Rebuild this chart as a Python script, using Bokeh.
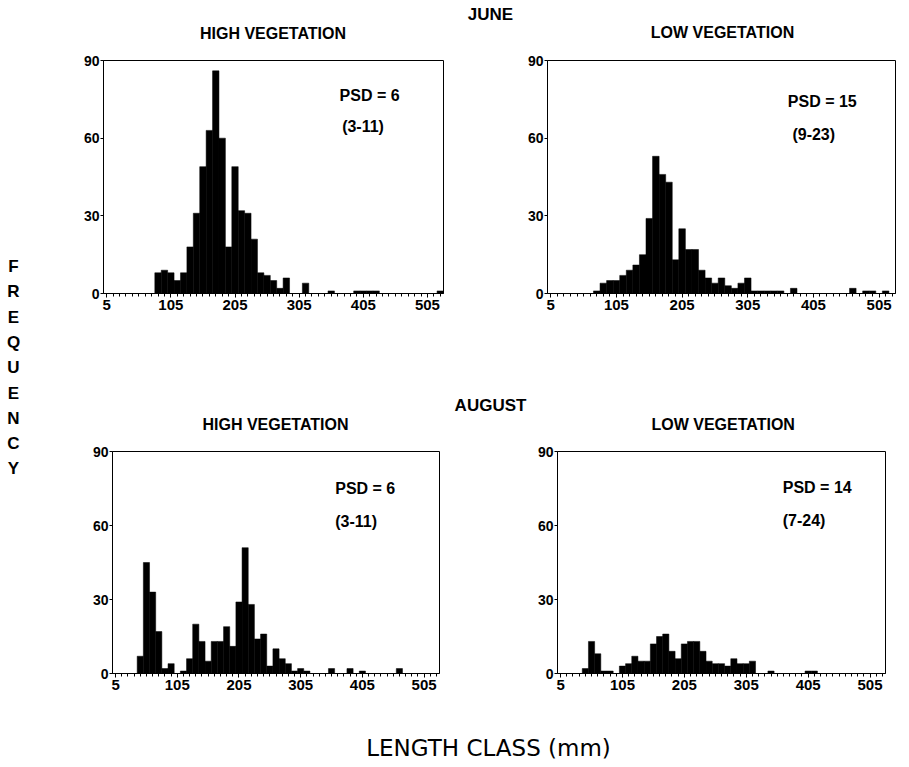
from bokeh.plotting import figure
from bokeh.layouts import row, column
from bokeh.models import Range1d, FixedTicker, Label
from bokeh.embed import file_html
from bokeh.resources import INLINE

# ---------------- data ----------------
BIN_WIDTH = 10
x_ticks = [5, 105, 205, 305, 405, 505]
x_minor = list(range(5, 530, 10))
y_ticks = [0, 30, 60, 90]

# June, high vegetation (bin left edge, mm ; frequency)
june_high_bins = [80, 90, 100, 110, 120, 130, 140, 150, 160, 170, 180, 190, 200, 210,
                  220, 230, 240, 250, 260, 270, 280, 310, 350, 390, 400, 410, 420, 520]
june_high_counts = [8, 9, 8, 5, 8, 18, 31, 49, 63, 86, 60, 18, 49, 32,
                    31, 21, 8, 7, 5, 2, 6, 4, 1, 1, 1, 1, 1, 1]

# June, low vegetation
june_low_bins = [70, 80, 90, 100, 110, 120, 130, 140, 150, 160, 170, 180, 190, 200, 210,
                 220, 230, 240, 250, 260, 270, 280, 290, 300, 310, 320, 330, 340, 350,
                 370, 460, 480, 490, 510]
june_low_counts = [1, 4, 5, 5, 7, 9, 11, 15, 29, 53, 46, 43, 13, 25, 17,
                   17, 9, 6, 4, 6, 3, 2, 4, 6, 1, 1, 1, 1, 1,
                   2, 2, 1, 1, 1]

# August, high vegetation
aug_high_bins = [40, 50, 60, 70, 80, 90, 110, 120, 130, 140, 150, 160, 170, 180, 190,
                 200, 210, 220, 230, 240, 250, 260, 270, 280, 290, 300, 310, 350, 380,
                 400, 460]
aug_high_counts = [7, 45, 33, 17, 2, 4, 1, 6, 20, 13, 5, 13, 13, 19, 11,
                   29, 51, 28, 14, 16, 3, 10, 6, 4, 1, 2, 1, 2, 2,
                   1, 2]

# August, low vegetation
aug_low_bins = [40, 50, 60, 70, 80, 100, 110, 120, 130, 140, 150, 160, 170, 180, 190,
                200, 210, 220, 230, 240, 250, 260, 270, 280, 290, 300, 310, 340, 400, 410]
aug_low_counts = [2, 13, 8, 1, 1, 3, 4, 7, 5, 5, 12, 15, 16, 9, 6,
                  12, 13, 13, 9, 5, 4, 4, 3, 6, 4, 4, 5, 1, 1, 1]

FONT = "Liberation Sans"


def strip(width, height):
    p = figure(width=width, height=height, x_range=Range1d(0, width), y_range=Range1d(0, height),
               output_backend="svg", toolbar_location=None, x_axis_type=None, y_axis_type=None,
               min_border=0, min_border_left=0, min_border_right=0, min_border_top=0,
               min_border_bottom=0)
    p.outline_line_color = None
    p.xgrid.visible = False
    p.ygrid.visible = False
    p.background_fill_color = "white"
    p.border_fill_color = "white"
    return p


def add_text(p, x, y, text, size, bold=True, font=FONT):
    p.add_layout(Label(x=x, y=y, text=text, text_align="center", text_baseline="middle",
                       text_font=font, text_font_style="bold" if bold else "normal",
                       text_font_size=size, text_color="black"))


def panel(bins, counts, width, height, bl, br, bt, bb, psd, psd_pos, ci, ci_pos):
    p = figure(width=width, height=height, x_range=Range1d(0, 530), y_range=Range1d(0, 90),
               output_backend="svg", toolbar_location=None,
               min_border_left=bl, min_border_right=br, min_border_top=bt, min_border_bottom=bb)
    p.quad(left=bins, right=[b + BIN_WIDTH for b in bins], bottom=0, top=counts,
           fill_color="black", line_color="black", line_width=0.5)
    p.xgrid.visible = False
    p.ygrid.visible = False
    p.outline_line_color = "black"
    p.outline_line_width = 1
    p.background_fill_color = "white"
    p.border_fill_color = "white"

    xa = p.xaxis[0]
    xa.ticker = FixedTicker(ticks=x_ticks, minor_ticks=x_minor)
    xa.axis_line_color = "black"
    xa.major_tick_out = 4
    xa.major_tick_in = 0
    xa.minor_tick_out = 3
    xa.minor_tick_in = 0
    xa.major_tick_line_color = "black"
    xa.minor_tick_line_color = "black"
    xa.major_label_standoff = 2
    xa.major_label_text_font = FONT
    xa.major_label_text_font_style = "bold"
    xa.major_label_text_font_size = "15px"
    xa.major_label_text_color = "black"

    ya = p.yaxis[0]
    ya.ticker = FixedTicker(ticks=y_ticks, minor_ticks=[])
    ya.axis_line_color = "black"
    ya.major_tick_out = 3
    ya.major_tick_in = 0
    ya.major_tick_line_color = "black"
    ya.major_label_standoff = 1
    ya.major_label_text_font = FONT
    ya.major_label_text_font_style = "bold"
    ya.major_label_text_font_size = "14px"
    ya.major_label_text_color = "black"

    p.add_layout(Label(x=psd_pos[0], y=psd_pos[1], text=psd, text_align="left",
                       text_baseline="middle", text_font=FONT, text_font_style="bold",
                       text_font_size="16px", text_color="black"))
    p.add_layout(Label(x=ci_pos[0], y=ci_pos[1], text=ci, text_align="left",
                       text_baseline="middle", text_font=FONT, text_font_style="bold",
                       text_font_size="16px", text_color="black"))
    return p


tl = panel(june_high_bins, june_high_counts, 482, 348, 65, 77, 16, 99,
           "PSD = 6", (368, 76.5), "(3-11)", (372, 64.5))
tr = panel(june_low_bins, june_low_counts, 380, 348, 27, 5, 11, 95,
           "PSD = 15", (366, 74), "(9-23)", (373, 61.3))
bl = panel(aug_high_bins, aug_high_counts, 482, 278, 74, 81, 10, 45,
           "PSD = 6", (361, 75.1), "(3-11)", (361, 61.8))
br = panel(aug_low_bins, aug_low_counts, 380, 278, 37, 15, 11, 44,
           "PSD = 14", (364, 75.4), "(7-24)", (364, 62))

june = strip(862, 44)
add_text(june, 452, 30, "JUNE", "17px")
add_text(june, 234.5, 11, "HIGH VEGETATION", "16px")
add_text(june, 684, 12, "LOW VEGETATION", "16px")

aug = strip(862, 48)
add_text(aug, 452, 35, "AUGUST", "17px")
add_text(aug, 237, 16.5, "HIGH VEGETATION", "16px")
add_text(aug, 684.7, 16, "LOW VEGETATION", "16px")

bottom = strip(862, 47)
add_text(bottom, 450, 18, "LENGTH CLASS (mm)", "23px", bold=False, font="DejaVu Sans")

left = strip(38, 765)
ylabel = "FREQUENCY"
for i, ch in enumerate(ylabel):
    add_text(left, 13, 765 - (266 + i * 25.3), ch, "17px")

layout = row(left, column(june, row(tl, tr), aug, row(bl, br), bottom))

open("out.html", "w").write(file_html(layout, INLINE))
